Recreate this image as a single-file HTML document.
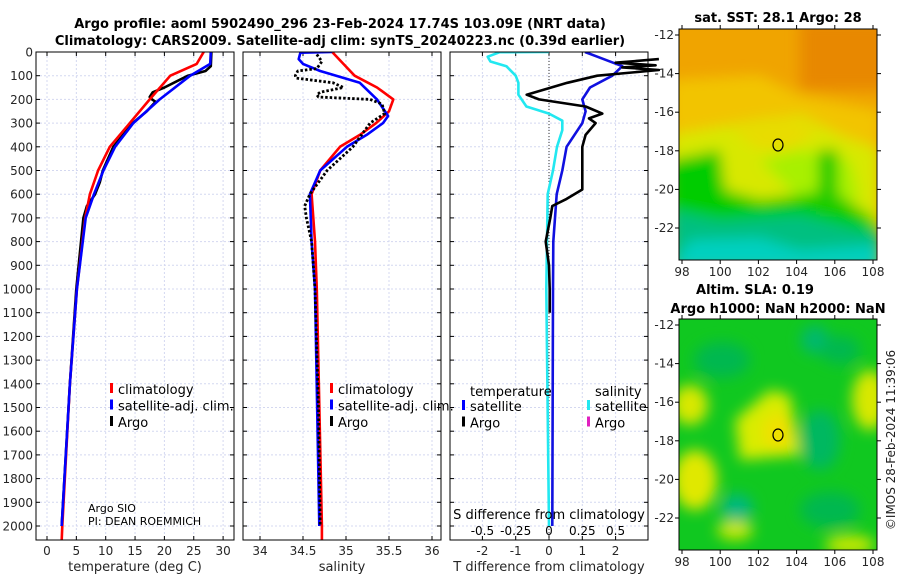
<!DOCTYPE html>
<html><head><meta charset="utf-8"><style>
body{margin:0;background:#fff;}
svg{display:block;font-family:"DejaVu Sans","Liberation Sans",sans-serif;}
</style></head><body>
<svg id="c" width="900" height="580" viewBox="0 0 900 580">
<defs>
<filter id="bl" x="-20%" y="-20%" width="140%" height="140%"><feGaussianBlur stdDeviation="7"/></filter>
<clipPath id="m1"><rect x="679" y="29" width="198" height="231"/></clipPath>
<clipPath id="m2"><rect x="679" y="319" width="198" height="231"/></clipPath>
<clipPath id="p1"><rect x="36" y="52" width="198" height="488"/></clipPath>
<clipPath id="p2"><rect x="243" y="52" width="198" height="488"/></clipPath>
<clipPath id="p3"><rect x="450" y="52" width="210" height="488"/></clipPath>
</defs>
<g font-weight="bold" font-size="13" text-anchor="middle" fill="#000">
<text x="340" y="28">Argo profile: aoml 5902490_296 23-Feb-2024 17.74S 103.09E (NRT data)</text>
<text x="340" y="45">Climatology: CARS2009. Satellite-adj clim: synTS_20240223.nc (0.39d earlier)</text>
</g>
<g id="panels"></g>
<g>
<text x="778" y="22" font-size="13" font-weight="bold" text-anchor="middle">sat. SST: 28.1 Argo: 28</text>
<g clip-path="url(#m1)">
<rect x="679" y="29" width="198" height="231" fill="#f0a400"/>
<g filter="url(#bl)">
<rect x="800" y="20" width="90" height="70" fill="#e88800"/>
<polygon points="670,80 760,75 800,95 880,110 880,160 830,150 790,140 750,150 700,150 670,150" fill="#f2c400"/>
<polygon points="670,135 760,120 800,115 840,135 880,150 880,240 670,240" fill="#d8e800"/>
<polygon points="730,130 790,118 820,130 790,150 760,150" fill="#e8dc00"/>
<polygon points="760,160 800,150 850,160 860,200 800,200" fill="#a8f000"/>
<polygon points="670,160 720,150 725,190 760,200 800,195 830,190 870,215 880,230 880,270 670,270" fill="#00cc00"/>
<polygon points="670,210 720,220 800,215 880,235 880,270 670,270" fill="#00c080"/>
<polygon points="690,240 760,238 800,250 880,245 880,270 670,270" fill="#00d0c0"/>
<rect x="818" y="150" width="20" height="60" fill="#20cc00"/>
</g>
</g>
<rect x="679" y="29" width="198" height="231" fill="none" stroke="#000" stroke-width="1"/>
<ellipse cx="778" cy="145" rx="5" ry="6" fill="none" stroke="#000" stroke-width="1.2"/>
</g>
<g>
<text x="755" y="294" font-size="13" font-weight="bold" text-anchor="middle">Altim. SLA: 0.19</text>
<text x="778" y="313" font-size="13" font-weight="bold" text-anchor="middle">Argo h1000: NaN h2000: NaN</text>
<g clip-path="url(#m2)">
<rect x="679" y="319" width="198" height="231" fill="#10c820"/>
<g filter="url(#bl)">
<polygon points="735,420 770,390 790,395 800,455 740,460" fill="#d8ec00"/>
<ellipse cx="778" cy="432" rx="16" ry="18" fill="#f0e000"/>
<ellipse cx="690" cy="405" rx="18" ry="20" fill="#d8e800"/>
<ellipse cx="695" cy="480" rx="22" ry="30" fill="#e0e800"/>
<ellipse cx="870" cy="400" rx="18" ry="30" fill="#d8e800"/>
<ellipse cx="850" cy="545" rx="25" ry="10" fill="#c8e800"/>
<ellipse cx="735" cy="530" rx="18" ry="10" fill="#c8e800"/>
<ellipse cx="737" cy="508" rx="16" ry="14" fill="#00b880"/>
<ellipse cx="815" cy="340" rx="14" ry="14" fill="#00b870"/>
<ellipse cx="820" cy="440" rx="20" ry="30" fill="#00b860"/>
<ellipse cx="722" cy="360" rx="28" ry="18" fill="#00b850"/>
<ellipse cx="840" cy="350" rx="20" ry="14" fill="#00b850"/>
<ellipse cx="830" cy="510" rx="30" ry="18" fill="#00b850"/>
</g>
</g>
<rect x="679" y="319" width="198" height="231" fill="none" stroke="#000" stroke-width="1"/>
<ellipse cx="778" cy="435" rx="5" ry="6" fill="none" stroke="#000" stroke-width="1.2"/>
</g>
<text transform="translate(895,440) rotate(-90)" font-size="12" text-anchor="middle" fill="#222">©IMOS 28-Feb-2024 11:39:06</text>
</svg>
<script>
// ---- data ----
const tClimDepth=[0,50,100,200,300,400,500,600,700,1000,1400,2000,2060];
const tClimVal=[26.7,25.5,21,17.5,14.1,10.7,8.7,7.3,6.5,5.1,3.9,2.6,2.5];
const tSatDepth=[0,50,100,200,300,400,500,600,700,1000,1400,2000];
const tSatVal=[27.9,27.8,24.4,19.2,14.7,11.6,9.6,8,6.6,5.1,3.9,2.5];
const tArgoDepth=[0,60,80,100,150,170,190,200,210,250,300,400,500,550,600,650,700,1000,1400,2000];
const tArgoVal=[28,27.9,27,24,20,18,17.5,17.9,18.5,17,14.6,11.3,9.5,9,8.2,6.8,6.2,5.0,3.9,2.5];
const sClimDepth=[0,50,100,150,200,250,300,350,400,500,600,800,1000,2000,2060];
const sClimVal=[34.84,34.97,35.1,35.36,35.55,35.5,35.35,35.16,34.93,34.7,34.6,34.64,34.66,34.72,34.72];
const sSatDepth=[0,3,30,50,80,130,200,270,300,350,400,500,600,800,1000,2000];
const sSatVal=[34.84,34.47,34.45,34.5,34.7,35.16,35.36,35.49,35.43,35.24,35.01,34.7,34.58,34.6,34.64,34.69];
const sArgoDepth=[10,40,70,80,100,110,130,150,155,170,180,190,200,220,260,300,350,400,500,600,650,700,800,1000,1500,2000];
const sArgoVal=[34.66,34.72,34.66,34.44,34.41,34.42,34.85,34.97,34.9,34.7,34.66,34.68,35.28,35.42,35.45,35.28,35.18,35.08,34.78,34.58,34.52,34.54,34.6,34.64,34.68,34.7];
const dSSatDepth=[0,1,20,40,60,100,130,180,230,260,290,330,400,500,600,1000,2000];
const dSSatVal=[0,-0.37,-0.46,-0.44,-0.32,-0.25,-0.23,-0.23,-0.17,0,0.1,0.1,0.06,0.03,-0.01,-0.02,0];
const dTSatDepth=[0,20,60,100,150,200,250,300,400,500,600,800,1000,2000];
const dTSatVal=[1.08,1.45,2.2,1.9,1.23,1.0,1.1,1.0,0.53,0.4,0.23,0.13,0.12,0.1];
const dTArgoDepth=[30,45,56,65,76,100,130,180,200,230,260,280,300,350,400,500,580,620,650,700,800,900,1000,1100];
const dTArgoVal=[3.3,2.0,3.2,2.2,3.3,1.45,0.55,-0.67,-0.3,1.1,1.6,1.2,1.4,1.1,1.0,1.0,1.0,0.53,0.1,0.04,-0.1,0,0.02,0.02];
const depthTicks=[0,100,200,300,400,500,600,700,800,900,1000,1100,1200,1300,1400,1500,1600,1700,1800,1900,2000];
const tTicks=[0,5,10,15,20,25,30];
const sTicks=[34,34.5,35,35.5,36];
const dTTicks=[-2,-1,0,1,2];
const dSTicks=[-0.5,-0.25,0,0.25,0.5];
const dSTickLabels=["-0.5","-0.25","0","0.25","0.5"];
// ---- scales ----
const Y=d=>52+d*0.237;
const XT=v=>47+v*5.87;
const XS=v=>260+(v-34)*86;
const XDT=v=>549+v*33.3;
const XDS=v=>549+v*133.2;
const NS="http://www.w3.org/2000/svg";
const root=document.getElementById('panels');
function mk(tag,at,parent){const e=document.createElementNS(NS,tag);for(const k in at)e.setAttribute(k,at[k]);(parent||root).appendChild(e);return e;}
function txt(s,at,parent){const e=mk('text',at,parent);e.textContent=s;return e;}
function panel(x0,name,xticks,xf,xlabels,title){
  const g=mk('g',{});
  
  
  xticks.forEach(v=>{const l=mk('line',{x1:xf(v),x2:xf(v),y1:52,y2:540,stroke:'#d4d8f0','stroke-width':1,'stroke-dasharray':'2,2'},g);
    
    });
  depthTicks.forEach(d=>{const l=mk('line',{x1:x0,x2:x0+198,y1:Y(d),y2:Y(d),stroke:'#d4d8f0','stroke-width':1,'stroke-dasharray':'2,2'},g);
    
    
    mk('line',{x1:x0,x2:x0+4,y1:Y(d),y2:Y(d),stroke:'#000'},g);
    mk('line',{x1:x0+194,x2:x0+198,y1:Y(d),y2:Y(d),stroke:'#000'},g);});
  xticks.forEach((v,i)=>{mk('line',{x1:xf(v),x2:xf(v),y1:536,y2:540,stroke:'#000'},g);
    mk('line',{x1:xf(v),x2:xf(v),y1:52,y2:56,stroke:'#000'},g);
    const t=txt(xlabels[i],{x:xf(v),y:555,'font-size':12,'text-anchor':'middle',fill:'#262626'},g);
    
    });
  const tt=txt(title,{x:x0+99,y:571,'font-size':13,'text-anchor':'middle',fill:'#262626'},g);
  
  
  return g;
}
function series(g,ds,vs,xf,color,name,clip,dash,w){
  const p=mk('polyline',{points:ds.map((d,i)=>xf(vs[i]).toFixed(1)+','+Y(d).toFixed(1)).join(' '),fill:'none',stroke:color,'stroke-width':w||2.6,'stroke-linejoin':'round','clip-path':'url(#'+clip+')'},g);
  if(dash)p.setAttribute('stroke-dasharray',dash);
  
  
}
function frame(g,x0){mk('rect',{x:x0,y:52,width:198,height:488,fill:'none',stroke:'#000','stroke-width':1},g);}
function legend(g,x,y,items){items.forEach((it,i)=>{mk('rect',{x:x,y:y+i*16.5-9,width:3,height:10,fill:it[1]},g);
  const t=txt(it[0],{x:x+8,y:y+i*16.5+2,'font-size':13,fill:'#000'},g);
  
  });}
depthTicks.forEach(d=>{const t=txt(String(d),{x:33,y:Y(d)+4.5,'font-size':12,'text-anchor':'end',fill:'#262626'});
  
  });
const g1=panel(36,'temperature-panel',tTicks,XT,tTicks.map(String),'temperature (deg C)');
series(g1,tArgoDepth,tArgoVal,XT,'#000','temp-argo-line','p1');
series(g1,tClimDepth,tClimVal,XT,'#f00','temp-climatology-line','p1');
series(g1,tSatDepth,tSatVal,XT,'#00f','temp-satellite-line','p1');
frame(g1,36);
legend(g1,110,392,[['climatology','#f00'],['satellite-adj. clim.','#00f'],['Argo','#000']]);
txt('Argo SIO',{x:88,y:512,'font-size':11,fill:'#000'},g1);
txt('PI: DEAN ROEMMICH',{x:88,y:525,'font-size':11,fill:'#000'},g1);
const g2=panel(243,'salinity-panel',sTicks,XS,sTicks.map(String),'salinity');
series(g2,sClimDepth,sClimVal,XS,'#f00','sal-climatology-line','p2');
series(g2,sSatDepth,sSatVal,XS,'#00f','sal-satellite-line','p2');
series(g2,sArgoDepth,sArgoVal,XS,'#000','sal-argo-line','p2','2.5,2',2.8);
frame(g2,243);
legend(g2,330,392,[['climatology','#f00'],['satellite-adj. clim.','#00f'],['Argo','#000']]);
const g3=panel(450,'difference-panel',dTTicks,XDT,dTTicks.map(String),'T difference from climatology');
mk('line',{x1:549,x2:549,y1:52,y2:540,stroke:'#333','stroke-width':1,'stroke-dasharray':'1,2'},g3);
series(g3,dSSatDepth,dSSatVal,XDS,'#22e8f0','sal-diff-satellite-line','p3');
series(g3,dTSatDepth,dTSatVal,XDT,'#1010e0','temp-diff-satellite-line','p3');
series(g3,dTArgoDepth,dTArgoVal,XDT,'#000','temp-diff-argo-line','p3');
frame(g3,450);
txt('S difference from climatology',{x:549,y:519,'font-size':13,'text-anchor':'middle',fill:'#000'},g3);
dSTicks.forEach((v,i)=>{const t=txt(dSTickLabels[i],{x:XDS(v),y:535,'font-size':12,'text-anchor':'middle',fill:'#000'},g3);
  
  });
txt('temperature',{x:470,y:396,'font-size':13,fill:'#000'},g3);
txt('salinity',{x:595,y:396,'font-size':13,fill:'#000'},g3);
legend(g3,462,409,[['satellite','#00f'],['Argo','#000']]);
legend(g3,587,409,[['satellite','#22e8f0'],['Argo','#e020c0']]);
const lonTicks=[98,100,102,104,106,108];
const latTicks=[-12,-14,-16,-18,-20,-22];
const XL=v=>682+(v-98)*19.1;
[[29,35],[319,325]].forEach(([top,lat12])=>{
  const bottom=top+231;
  lonTicks.forEach(v=>{mk('line',{x1:XL(v),x2:XL(v),y1:bottom,y2:bottom+4,stroke:'#000'});
    mk('line',{x1:XL(v),x2:XL(v),y1:top-4,y2:top,stroke:'#000'});
    const t=txt(String(v),{x:XL(v),y:bottom+16,'font-size':12,'text-anchor':'middle',fill:'#262626'});
    
    });
  latTicks.forEach(v=>{const y=lat12+(-12-v)*19.3;
    mk('line',{x1:675,x2:679,y1:y,y2:y,stroke:'#000'});
    mk('line',{x1:877,x2:881,y1:y,y2:y,stroke:'#000'});
    const t=txt(String(v),{x:674,y:y+4,'font-size':12,'text-anchor':'end',fill:'#262626'});
    
    });
});
</script>
</body></html>
